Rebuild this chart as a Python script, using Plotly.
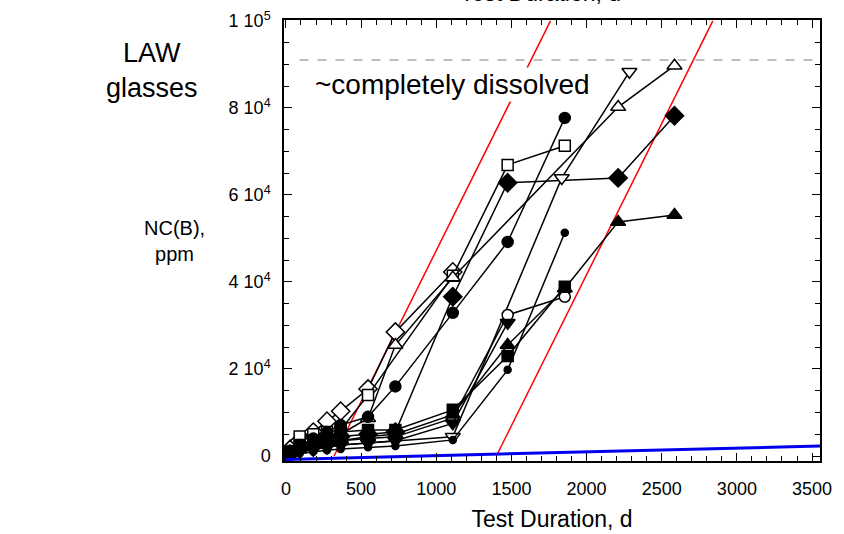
import plotly.graph_objects as go

# ---- data ----
early_t = [0, 28, 91, 182, 273, 364, 546, 728]

open_diamond_x = early_t + [1110]
open_diamond_y = [300, 1500, 3500, 5500, 8000, 10300, 15400, 28500, 42300]

open_square_x = [0, 28, 91, 182, 273, 364, 546, 1110, 1475, 1855]
open_square_y = [200, 1000, 4500, 5000, 5500, 6000, 14000, 41400, 66900, 71300]

open_tri_up_x = early_t + [1110, 2210, 2585]
open_tri_up_y = [200, 1000, 2000, 3000, 4000, 5000, 8700, 25500, 41000, 80200, 89700]

open_tri_down_x = early_t + [1110, 1835, 2285]
open_tri_down_y = [100, 500, 1000, 1500, 2000, 2500, 3000, 3500, 4400, 63900, 88300]

open_circle_x = early_t + [1110, 1475, 1855]
open_circle_y = [100, 800, 1500, 2500, 3000, 3500, 4000, 4400, 8700, 32400, 36600]

big_dot_x = early_t + [1110, 1475, 1855]
big_dot_y = [200, 1200, 2500, 4000, 5500, 7100, 9000, 16000, 32900, 49200, 77700]

small_dot_x = early_t + [1110, 1475, 1855]
small_dot_y = [0, 300, 600, 1000, 1300, 1600, 2000, 2300, 3700, 19800, 51300]

filled_diamond_x = early_t + [1110, 1475, 2210, 2585]
filled_diamond_y = [200, 1500, 2500, 3500, 4000, 4500, 5000, 5500, 36600, 62800, 63900, 78200]

filled_square_x = early_t + [1110, 1475, 1855]
filled_square_y = [100, 1000, 2500, 3500, 4500, 5500, 6000, 6000, 10600, 23000, 38900]

filled_tri_up_x = early_t + [1110, 1475, 1855, 2210, 2585]
filled_tri_up_y = [100, 800, 1500, 2500, 3000, 3500, 4500, 5000, 9500, 25500, 38500, 53800, 55400]

filled_tri_down_x = early_t + [1110, 1475]
filled_tri_down_y = [100, 500, 1000, 1500, 2000, 2500, 3000, 3500, 7500, 30600]

# reference lines
dissolved_x = [90, 3553]
dissolved_y = [91000, 91000]
red1_x = [320, 1760]
red1_y = [0, 100000]
red2_x = [1400, 2840]
red2_y = [0, 100000]
blue_x = [0, 3553]
blue_y = [-800, 2300]

y_tickvals = [0, 20000, 40000, 60000, 80000, 100000]
y_ticktext = ["0", "2 10<sup>4</sup>", "4 10<sup>4</sup>", "6 10<sup>4</sup>", "8 10<sup>4</sup>", "1 10<sup>5</sup>"]
x_tickvals = [0, 500, 1000, 1500, 2000, 2500, 3000, 3500]

FONT = "Liberation Sans, Arial, Helvetica, sans-serif"

fig = go.Figure()

fig.add_trace(go.Scatter(x=dissolved_x, y=dissolved_y, mode="lines",
                         line=dict(color="#aaaaaa", width=1.5, dash="dash"), hoverinfo="skip"))
fig.add_trace(go.Scatter(x=red1_x, y=red1_y, mode="lines", line=dict(color="red", width=1.5)))
fig.add_trace(go.Scatter(x=red2_x, y=red2_y, mode="lines", line=dict(color="red", width=1.5)))

styles = [
    (filled_diamond_x, filled_diamond_y, "diamond", "black", 14),
    (open_diamond_x, open_diamond_y, "diamond", "white", 14),
    (open_square_x, open_square_y, "square", "white", 11),
    (open_tri_up_x, open_tri_up_y, "triangle-up", "white", 13),
    (open_tri_down_x, open_tri_down_y, "triangle-down", "white", 13),
    (open_circle_x, open_circle_y, "circle", "white", 11),
    (big_dot_x, big_dot_y, "circle", "black", 11),
    (small_dot_x, small_dot_y, "circle", "black", 7),
    (filled_square_x, filled_square_y, "square", "black", 11),
    (filled_tri_up_x, filled_tri_up_y, "triangle-up", "black", 13),
    (filled_tri_down_x, filled_tri_down_y, "triangle-down", "black", 13),
]
for xs, ys, sym, col, size in styles:
    fig.add_trace(go.Scatter(
        x=xs, y=ys, mode="lines+markers",
        line=dict(color="black", width=1.5),
        marker=dict(symbol=sym, color=col, size=size, line=dict(color="black", width=1.5)),
    ))

fig.add_trace(go.Scatter(x=blue_x, y=blue_y, mode="lines", line=dict(color="#0000ee", width=3)))

axis_common = dict(
    showline=True, linecolor="black", linewidth=1.5, mirror="allticks",
    ticks="inside", ticklen=8, tickwidth=1.2, tickcolor="black",
    showgrid=False, zeroline=False, automargin=False,
    tickfont=dict(family=FONT, size=18, color="black"),
)

fig.update_xaxes(
    range=[-13, 3553], tickvals=x_tickvals,
    minor=dict(dtick=100, tick0=0, ticks="inside", ticklen=5, tickcolor="black", tickwidth=1),
    title=dict(text="Test Duration, d", font=dict(family=FONT, size=23, color="black"), standoff=13),
    ticklabelstandoff=11,
    **axis_common,
)
fig.update_yaxes(
    range=[-1150, 100200], tickvals=y_tickvals, ticktext=y_ticktext,
    minor=dict(dtick=5000, tick0=0, ticks="inside", ticklen=5, tickcolor="black", tickwidth=1),
    ticklabelstandoff=8,
    **axis_common,
)

fig.update_layout(
    width=844, height=534,
    margin=dict(l=284, r=24, t=20, b=73),
    paper_bgcolor="white", plot_bgcolor="white",
    showlegend=False,
    font=dict(family=FONT, color="black"),
    annotations=[
        dict(text="~completely dissolved", xref="paper", yref="paper", x=0.315, y=0.853,
             showarrow=False, font=dict(family=FONT, size=28, color="black"),
             bgcolor="white", borderpad=1, xanchor="center", yanchor="middle"),
        dict(text="LAW<br>glasses", xref="paper", yref="paper", x=-0.246, y=0.885,
             showarrow=False, font=dict(family=FONT, size=27, color="black"),
             xanchor="center", yanchor="middle"),
        dict(text="NC(B),<br>ppm", xref="paper", yref="paper", x=-0.205, y=0.50,
             showarrow=False, font=dict(family=FONT, size=20, color="black"),
             xanchor="center", yanchor="middle"),
        dict(text="Test Duration, d", xref="paper", yref="paper", x=0.478, y=1, yshift=12,
             showarrow=False, font=dict(family=FONT, size=23, color="black"),
             xanchor="center", yanchor="bottom"),
    ],
)

fig.write_html("out.html")
